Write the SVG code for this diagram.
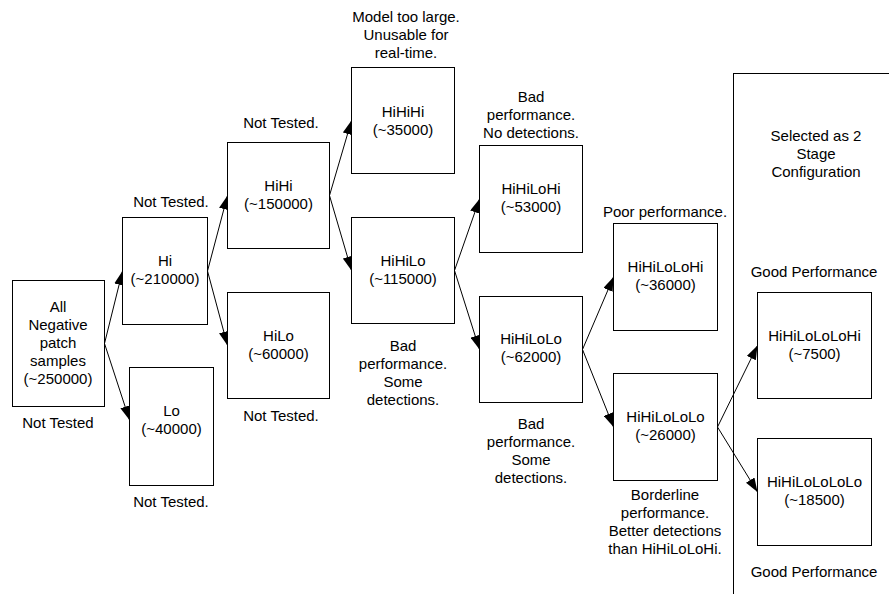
<svg xmlns="http://www.w3.org/2000/svg" width="889" height="594" viewBox="0 0 889 594">
  <style>
    .box { fill: #ffffff; stroke: #000000; stroke-width: 1; }
    .frame { fill: none; stroke: #000000; stroke-width: 1; }
    .edge { fill: none; stroke: #000000; stroke-width: 1; marker-end: url(#arrow); }
    text { font-family: "Liberation Sans", Arial, sans-serif; font-size: 15px; fill: #000000; text-anchor: middle; }
  </style>
  <defs>
    <marker id="arrow" markerUnits="userSpaceOnUse" viewBox="0 0 14 10" markerWidth="14" markerHeight="10" refX="14" refY="5" orient="auto">
      <path d="M0,0 L14,5 L0,10 z" fill="#000000"/>
    </marker>
  </defs>

  <!-- frame around the chosen two-stage configuration -->
  <g id="selected-frame">
    <rect class="frame" x="733.5" y="73.5" width="220" height="560"/>
    <text x="816" y="141">Selected as 2</text>
    <text x="816" y="159">Stage</text>
    <text x="816" y="177">Configuration</text>
  </g>

  <!-- connectors -->
  <g id="connectors">
    <path class="edge" d="M104.5,343.5 L122.5,271"/>
    <path class="edge" d="M104.5,343.5 L129.5,420"/>
    <path class="edge" d="M207.5,271 L227.5,195.5"/>
    <path class="edge" d="M207.5,271 L227.5,345.5"/>
    <path class="edge" d="M329.5,195.5 L351.5,120.5"/>
    <path class="edge" d="M329.5,195.5 L351.5,270.5"/>
    <path class="edge" d="M454.5,270.5 L479.5,199"/>
    <path class="edge" d="M454.5,270.5 L479.5,349.5"/>
    <path class="edge" d="M582.5,349.5 L613.5,277"/>
    <path class="edge" d="M582.5,349.5 L613.5,427"/>
    <path class="edge" d="M717.5,427 L757.5,345.5"/>
    <path class="edge" d="M717.5,427 L757.5,492"/>
  </g>

  <g id="all">
    <rect class="box" x="12.5" y="280.5" width="92" height="126"/>
    <text x="58" y="312">All</text>
    <text x="58" y="330">Negative</text>
    <text x="58" y="348">patch</text>
    <text x="58" y="366">samples</text>
    <text x="58" y="384">(~250000)</text>
    <text x="58" y="428">Not Tested</text>
  </g>

  <g id="hi">
    <rect class="box" x="122.5" y="217.5" width="85" height="107"/>
    <text x="165" y="266">Hi</text>
    <text x="165" y="284">(~210000)</text>
    <text x="171" y="207">Not Tested.</text>
  </g>

  <g id="lo">
    <rect class="box" x="129.5" y="367.5" width="84" height="118"/>
    <text x="171.5" y="416">Lo</text>
    <text x="171.5" y="434">(~40000)</text>
    <text x="171" y="507">Not Tested.</text>
  </g>

  <g id="hihi">
    <rect class="box" x="227.5" y="142.5" width="102" height="106"/>
    <text x="278.5" y="191">HiHi</text>
    <text x="278.5" y="209">(~150000)</text>
    <text x="281" y="128">Not Tested.</text>
  </g>

  <g id="hilo">
    <rect class="box" x="227.5" y="292.5" width="102" height="106"/>
    <text x="278.5" y="341">HiLo</text>
    <text x="278.5" y="359">(~60000)</text>
    <text x="281" y="421">Not Tested.</text>
  </g>

  <g id="hihihi">
    <rect class="box" x="351.5" y="67.5" width="103" height="106"/>
    <text x="403" y="117">HiHiHi</text>
    <text x="403" y="135">(~35000)</text>
    <text x="406" y="21.5">Model too large.</text>
    <text x="406" y="39.5">Unusable for</text>
    <text x="406" y="57.5">real-time.</text>
  </g>

  <g id="hihilo">
    <rect class="box" x="351.5" y="217.5" width="103" height="106"/>
    <text x="403" y="266">HiHiLo</text>
    <text x="403" y="284">(~115000)</text>
    <text x="403" y="351">Bad</text>
    <text x="403" y="369">performance.</text>
    <text x="403" y="387">Some</text>
    <text x="403" y="405">detections.</text>
  </g>

  <g id="hihilohi">
    <rect class="box" x="479.5" y="145.5" width="103" height="107"/>
    <text x="531" y="194">HiHiLoHi</text>
    <text x="531" y="212">(~53000)</text>
    <text x="531" y="102">Bad</text>
    <text x="531" y="120">performance.</text>
    <text x="531" y="138">No detections.</text>
  </g>

  <g id="hihilolo">
    <rect class="box" x="479.5" y="296.5" width="103" height="106"/>
    <text x="531" y="344">HiHiLoLo</text>
    <text x="531" y="362">(~62000)</text>
    <text x="531" y="429">Bad</text>
    <text x="531" y="447">performance.</text>
    <text x="531" y="465">Some</text>
    <text x="531" y="483">detections.</text>
  </g>

  <g id="hihilolohi">
    <rect class="box" x="613.5" y="223.5" width="104" height="107"/>
    <text x="665.5" y="272">HiHiLoLoHi</text>
    <text x="665.5" y="290">(~36000)</text>
    <text x="665" y="217">Poor performance.</text>
  </g>

  <g id="hihilololo">
    <rect class="box" x="613.5" y="373.5" width="104" height="107"/>
    <text x="665.5" y="422">HiHiLoLoLo</text>
    <text x="665.5" y="440">(~26000)</text>
    <text x="665" y="500">Borderline</text>
    <text x="665" y="518">performance.</text>
    <text x="665" y="536">Better detections</text>
    <text x="665" y="554">than HiHiLoLoHi.</text>
  </g>

  <g id="hihilololohi">
    <rect class="box" x="757.5" y="292.5" width="114" height="106"/>
    <text x="814.5" y="341">HiHiLoLoLoHi</text>
    <text x="814.5" y="359">(~7500)</text>
    <text x="814" y="277">Good Performance</text>
  </g>

  <g id="hihilolololo">
    <rect class="box" x="757.5" y="438.5" width="114" height="107"/>
    <text x="814.5" y="487">HiHiLoLoLoLo</text>
    <text x="814.5" y="505">(~18500)</text>
    <text x="814" y="577">Good Performance</text>
  </g>
</svg>
